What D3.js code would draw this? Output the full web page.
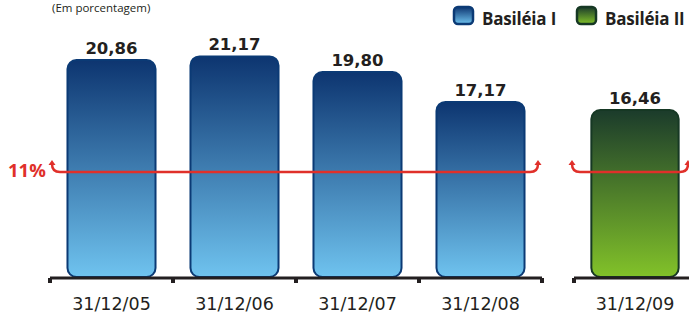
<!DOCTYPE html>
<html><head><meta charset="utf-8">
<script src="https://cdn.jsdelivr.net/npm/d3@7/dist/d3.min.js"></script>
<style>html,body{margin:0;padding:0;background:#fff;}svg{display:block;}</style>
</head><body>
<script>
const categoriesI = ["31/12/05", "31/12/06", "31/12/07", "31/12/08"];
const valuesI = [20.86, 21.17, 19.80, 17.17];
const categoriesII = ["31/12/09"];
const valuesII = [16.46];
const seriesNames = ["Basiléia I", "Basiléia II"];
const limitValue = 11;
const limitLabel = "11%";
const subtitle = "(Em porcentagem)";

const W = 689, H = 314;
const svg = d3.select("body").append("svg").attr("width", W).attr("height", H);
const defs = svg.append("defs");
function grad(id, c1, c2) {
  const g = defs.append("linearGradient").attr("id", id).attr("x1", 0).attr("y1", 0).attr("x2", 0).attr("y2", 1);
  g.append("stop").attr("offset", "0%").attr("stop-color", c1);
  g.append("stop").attr("offset", "100%").attr("stop-color", c2);
}
grad("gBlue", "#0d3570", "#6fc3ef");
grad("gGreen", "#1b3b2b", "#82c229");

const axisY = 278;
const y = d3.scaleLinear().domain([0, 22]).range([297, 47]);
const x1 = d3.scaleBand().domain(categoriesI).range([50, 542]).paddingInner(0.268).paddingOuter(0.134);
const x2 = d3.scaleBand().domain(categoriesII).range([574, 696]).paddingInner(0.268).paddingOuter(0.134);

// subtitle
svg.append("text").attr("x", 52).attr("y", 12).attr("font-family", "Open Sans").attr("font-size", 11.5)
  .attr("fill", "#231f20").text(subtitle);

// legend
const legend = [
  {name: seriesNames[0], fill: "url(#gBlue)", stroke: "#0b3a75", x: 453},
  {name: seriesNames[1], fill: "url(#gGreen)", stroke: "#163824", x: 576}
];
legend.forEach(l => {
  svg.append("rect").attr("x", l.x + 1).attr("y", 7).attr("width", 19).attr("height", 17).attr("rx", 4)
    .attr("fill", l.fill).attr("stroke", l.stroke).attr("stroke-width", 2.5);
  svg.append("text").attr("x", l.x + 29).attr("y", 25).attr("font-family", "Open Sans").attr("font-weight", 700)
    .attr("font-size", 17).attr("letter-spacing", -0.2).attr("fill", "#231f20").text(l.name);
});

function drawGroup(x, cats, vals, fill, stroke) {
  const data = cats.map((c, i) => ({c, v: vals[i]}));
  svg.append("g").selectAll("rect").data(data).join("rect")
    .attr("x", d => x(d.c) + 1).attr("y", d => y(d.v))
    .attr("width", x.bandwidth() - 2).attr("height", d => axisY - 1 - y(d.v))
    .attr("rx", 9).attr("fill", fill).attr("stroke", stroke).attr("stroke-width", 2);
  svg.append("g").selectAll("text").data(data).join("text")
    .attr("x", d => x(d.c) + x.bandwidth() / 2).attr("y", d => y(d.v) - 6)
    .attr("text-anchor", "middle").attr("font-family", "DejaVu Sans").attr("font-weight", 700)
    .attr("font-size", 16.5).attr("fill", "#231f20")
    .text(d => d.v.toFixed(2).replace(".", ","));
  // axis
  const [r0, r1] = x.range();
  svg.append("line").attr("x1", r0).attr("x2", r1).attr("y1", axisY).attr("y2", axisY)
    .attr("stroke", "#231f20").attr("stroke-width", 3);
  const step = x.step();
  const bounds = d3.range(cats.length + 1).map(i => x(cats[0]) - step * x.paddingOuter() + i * step);
  svg.append("g").selectAll("rect").data(bounds).join("rect")
    .attr("x", d => d - 2).attr("y", axisY).attr("width", 4).attr("height", 5).attr("fill", "#231f20");
  svg.append("g").selectAll("text").data(cats).join("text")
    .attr("x", d => x(d) + x.bandwidth() / 2).attr("y", 310)
    .attr("text-anchor", "middle").attr("font-family", "DejaVu Sans").attr("font-size", 17.5)
    .attr("fill", "#231f20").text(d => d);
}
drawGroup(x1, categoriesI, valuesI, "url(#gBlue)", "#0b3a75");
drawGroup(x2, categoriesII, valuesII, "url(#gGreen)", "#163824");

// limit line
const red = "#e0302a";
const ly = y(limitValue);
function hookLine(a, b) {
  const p = d3.path();
  p.moveTo(a, ly - 8);
  p.quadraticCurveTo(a, ly, a + 8, ly);
  p.lineTo(b - 8, ly);
  p.quadraticCurveTo(b, ly, b, ly - 8);
  svg.append("path").attr("d", p.toString()).attr("fill", "none").attr("stroke", red).attr("stroke-width", 2.5);
  [a, b].forEach(px => {
    svg.append("path").attr("d", `M${px - 3.5},${ly - 7} L${px},${ly - 12} L${px + 3.5},${ly - 7} Z`).attr("fill", red);
  });
}
hookLine(x1.range()[0] + 2, x1.range()[1] - 4);
hookLine(x2.range()[0] - 2, x2.range()[0] + 114);
svg.append("text").attr("x", 8).attr("y", ly + 5).attr("font-family", "Open Sans").attr("font-weight", 700)
  .attr("font-size", 18.5).attr("fill", red).text(limitLabel);
</script>
</body></html>
